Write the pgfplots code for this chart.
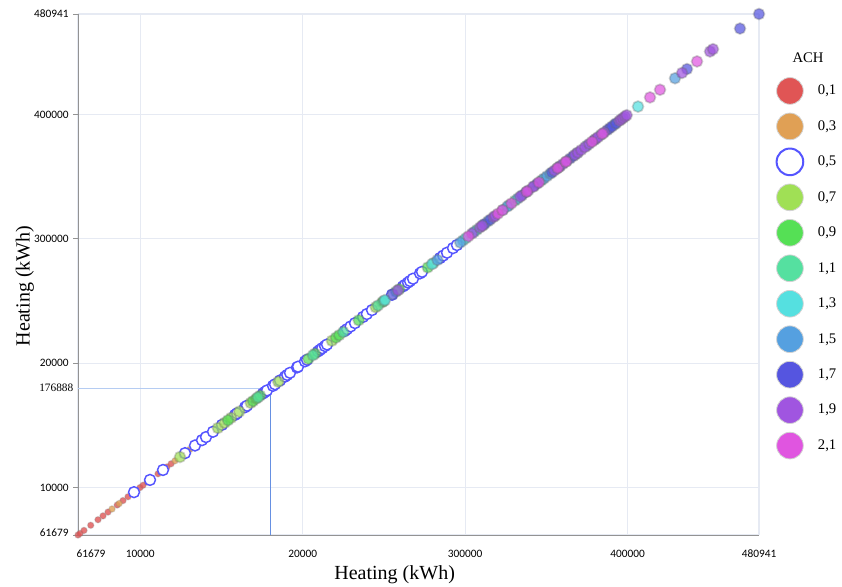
\documentclass[border=0pt]{standalone}
\usepackage{fontspec}
\setmainfont{Liberation Serif}
\newfontfamily\carlito{Carlito}
\usepackage{pgfplots}
\pgfplotsset{compat=1.18}

\definecolor{c01}{HTML}{E05555}
\definecolor{c03}{HTML}{E0A055}
\definecolor{c05}{HTML}{5555FF}
\definecolor{c07}{HTML}{A0E055}
\definecolor{c09}{HTML}{55E055}
\definecolor{c11}{HTML}{55E0A0}
\definecolor{c13}{HTML}{55E0E0}
\definecolor{c15}{HTML}{55A0E0}
\definecolor{c17}{HTML}{5555E0}
\definecolor{c19}{HTML}{A055E0}
\definecolor{c21}{HTML}{E055E0}
\definecolor{gridc}{HTML}{E6EAF3}
\definecolor{refh}{HTML}{B5CCF2}
\definecolor{refv}{HTML}{6690E2}

\pgfplotsset{
  dot/.style={only marks, mark=*, mark size=4.1pt, forget plot,
    mark options={fill=#1, fill opacity=0.72, draw=black!60, draw opacity=0.3, line width=1.3pt}},
  small dot/.style={only marks, mark=*, mark size=2.4pt, forget plot,
    mark options={fill=#1, fill opacity=0.8, draw=black!50, draw opacity=0.25, line width=0.9pt}},
  ring/.style={only marks, mark=*, mark size=4.1pt, forget plot,
    mark options={fill=white, draw=c05, line width=1.1pt}},
  leg/.style={only marks, mark=*, mark options={fill=#1, draw=gray!35, line width=0.6pt}},
}

\begin{document}
\begin{tikzpicture}
\useasboundingbox (-58.5pt,-38.25pt) rectangle (573pt,401.25pt);
\begin{axis}[
  at={(0pt,0pt)}, anchor=south west,
  scale only axis, width=510.75pt, height=390.75pt,
  xmin=61679, xmax=480941, ymin=61679, ymax=480941,
  clip=false,
  axis x line*=bottom, axis y line*=left,
  axis line style={draw=gray!85, line width=0.7pt},
  xtick={61679,100000,200000,300000,400000,480941},
  xticklabels={\makebox[0pt][l]{\hspace{-1pt}61679},10000,20000,300000,400000,480941},
  ytick={61679,100000,200000,300000,400000,480941},
  yticklabels={\raisebox{3pt}{61679},10000,20000,300000,400000,480941},
  extra y ticks={180000}, extra y tick labels={176888},
  extra y tick style={grid=none, major tick length=0pt,
    yticklabel style={font=\rmfamily\fontsize{8.5}{10}\selectfont}},
  scaled ticks=false,
  grid=major, major grid style={draw=gridc, line width=0.9pt},
  tick align=outside, major tick length=3.5pt,
  xtick style={draw=none}, ytick style={draw=gray!85, line width=0.6pt},
  tick label style={font=\carlito\fontsize{8.5}{10}\selectfont},
  xticklabel style={yshift=-4pt},
  xlabel={Heating (kWh)}, ylabel={Heating (kWh)},
  label style={font=\fontsize{15}{17}\selectfont},
  xlabel style={at={(axis description cs:0.465,-0.077)}, anchor=center},
  ylabel style={at={(axis description cs:-0.078,0.478)}, anchor=center},
  legend style={at={(rel axis cs:1,1)}, anchor=north west, xshift=13pt, yshift=-47.5pt,
    draw=none, fill=none, inner sep=0pt, row sep=6.6pt, column sep=9pt,
    font=\fontsize{11}{13}\selectfont},
  legend cell align=left,
  legend image code/.code={\draw[#1, mark size=10pt] plot coordinates {(10pt,0pt)};},
]
% reference lines
\addplot[refh, line width=0.7pt, forget plot] coordinates {(61679,180000) (180000,180000)};
\addplot[refv, line width=0.7pt, forget plot] coordinates {(180000,61679) (180000,180000)};

% ACH 0,1
\addplot[small dot=c01] table {
x y
61679 61679
62910 62910
65373 65373
69500 69500
73992 73992
77071 77071
80149 80149
85800 85800
89384 89384
92462 92462
99850 99850
101697 101697
104300 104300
110932 110932
112500 112500
116473 116473
119000 119000
126000 126000
134943 134943
};
% ACH 0,3
\addplot[small dot=c03] table {
x y
82611 82611
87000 87000
95500 95500
121398 121398
129402 129402
130634 130634
136500 136500
142000 142000
147000 147000
};
% ACH 0,5
\addplot[ring] table {
x y
96156 96156
106007 106007
114010 114010
127555 127555
133712 133712
138021 138021
140484 140484
144793 144793
150334 150334
158338 158338
159569 159569
164494 164494
165726 165726
175576 175576
176807 176807
178039 178039
181733 181733
182964 182964
186042 186042
189121 189121
190500 190500
192199 192199
196509 196509
197124 197124
201434 201434
202665 202665
209438 209438
210669 210669
212000 212000
213747 213747
214979 214979
226061 226061
227292 227292
229500 229500
232217 232217
237143 237143
239500 239500
242684 242684
254997 254997
261770 261770
263000 263000
264848 264848
266079 266079
267927 267927
272236 272236
273468 273468
284550 284550
286500 286500
288859 288859
292553 292553
295000 295000
};
% ACH 0,7
\addplot[dot=c07] table {
x y
124477 124477
147800 147800
152000 152000
156000 156000
161000 161000
168000 168000
185000 185000
218000 218000
245000 245000
};
% ACH 0,9
\addplot[dot=c09] table {
x y
154028 154028
169420 169420
171500 171500
173800 173800
203500 203500
207590 207590
220520 220520
222500 222500
234500 234500
249000 249000
259500 259500
277000 277000
};
% ACH 1,1
\addplot[dot=c11] table {
x y
172498 172498
206359 206359
225000 225000
246378 246378
250000 250000
257500 257500
280500 280500
307329 307329
330725 330725
347000 347000
};
% ACH 1,3
\addplot[dot=c13] table {
x y
250688 250688
279624 279624
298710 298710
300500 300500
311000 311000
327000 327000
368895 368895
406451 406451
};
% ACH 1,5
\addplot[dot=c15] table {
x y
283000 283000
297000 297000
305500 305500
314102 314102
323337 323337
326000 326000
332500 332500
348500 348500
350426 350426
352500 352500
356500 356500
358429 358429
375000 375000
383500 383500
392000 392000
429230 429230
};
% ACH 1,7
\addplot[dot=c17] table {
x y
255500 255500
312000 312000
315500 315500
335034 335034
337500 337500
342500 342500
344500 344500
353500 353500
364586 364586
366500 366500
379500 379500
387500 387500
389000 389000
390444 390444
393000 393000
436618 436618
469248 469248
480941 480941
};
% ACH 1,9
\addplot[dot=c19] table {
x y
258691 258691
304251 304251
309176 309176
310500 310500
317500 317500
318500 318500
334000 334000
339000 339000
341806 341806
355000 355000
358000 358000
360276 360276
362500 362500
367664 367664
369500 369500
371500 371500
373821 373821
376500 376500
380500 380500
381824 381824
385500 385500
395000 395000
396000 396000
397216 397216
398447 398447
399500 399500
433540 433540
450778 450778
452625 452625
};
% ACH 2,1
\addplot[dot=c21] table {
x y
302000 302000
320258 320258
323000 323000
328500 328500
338000 338000
345500 345500
357000 357000
362000 362000
378130 378130
384500 384500
413838 413838
419995 419995
442775 442775
};

\addlegendimage{leg=c01}\addlegendentry{0,1}
\addlegendimage{leg=c03}\addlegendentry{0,3}
\addlegendimage{only marks, mark=*, mark options={fill=white, draw=c05, line width=1.5pt}}\addlegendentry{0,5}
\addlegendimage{leg=c07}\addlegendentry{0,7}
\addlegendimage{leg=c09}\addlegendentry{0,9}
\addlegendimage{leg=c11}\addlegendentry{1,1}
\addlegendimage{leg=c13}\addlegendentry{1,3}
\addlegendimage{leg=c15}\addlegendentry{1,5}
\addlegendimage{leg=c17}\addlegendentry{1,7}
\addlegendimage{leg=c19}\addlegendentry{1,9}
\addlegendimage{leg=c21}\addlegendentry{2,1}
\end{axis}
\node[font=\fontsize{11}{13}\selectfont] at (547.5pt,357.75pt) {ACH};
\end{tikzpicture}
\end{document}
